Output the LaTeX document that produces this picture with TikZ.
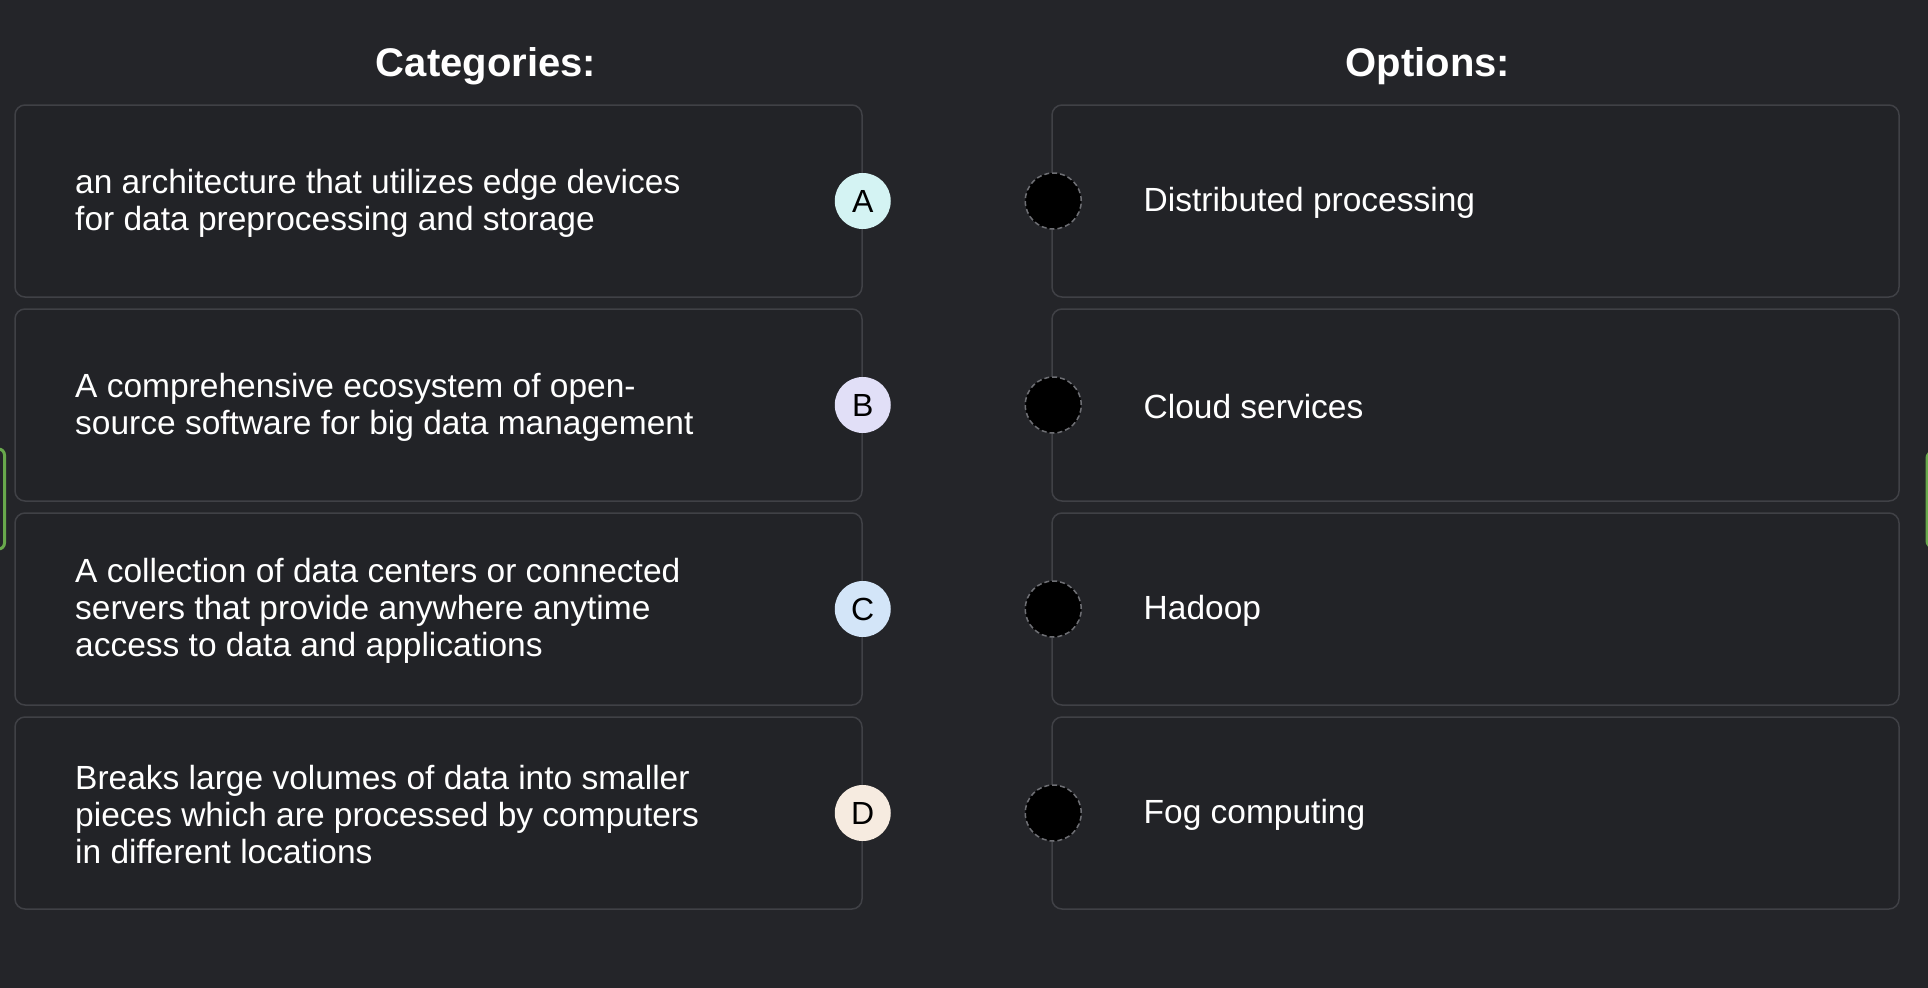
\documentclass[tikz,border=0pt]{standalone}
\usepackage{fontspec}
\setmainfont{Liberation Sans}
\usepackage{xcolor}

\definecolor{pagebg}{RGB}{36,37,41}
\definecolor{boxfill}{RGB}{34,35,39}
\definecolor{boxline}{RGB}{64,65,70}
\definecolor{tagcyan}{RGB}{212,243,243}
\definecolor{taglilac}{RGB}{225,223,247}
\definecolor{tagblue}{RGB}{211,229,248}
\definecolor{tagpeach}{RGB}{246,235,224}
\definecolor{slotline}{RGB}{110,111,116}
\definecolor{tabgreen}{RGB}{104,168,76}

\begin{document}
\begin{tikzpicture}[x=1pt, y=-1pt,
            catbox/.style={rectangle, draw=boxline, line width=1.5pt, fill=boxfill, rounded corners=10pt, minimum width=847pt, minimum height=192pt, inner sep=0pt},
            optbox/.style={catbox},
            tag/.style={circle, fill=#1, minimum size=56pt, inner sep=0pt, text=black, font=\fontsize{32}{36}\selectfont},
            slot/.style={circle, draw=slotline, fill=black, line width=1.5pt, dash pattern=on 5pt off 3pt, minimum size=56pt, inner sep=0pt},
            cattext/.style={anchor=west, align=left, inner sep=0pt, text=white, font=\fontsize{33.5}{37}\selectfont},
            title/.style={text=white, font=\bfseries\fontsize{40}{44}\selectfont}
        ]
            % Background and page size
            \fill[pagebg] (0,0) rectangle (1928,988);
            \useasboundingbox (0,0) rectangle (1928,988);

            % Green tabs cut by the page edges
            \draw[tabgreen, line width=3pt, rounded corners=6pt] (-20,449) rectangle (4.5,549);
            \draw[tabgreen, line width=3pt, rounded corners=6pt] (1927,452) rectangle (1960,547);

            % Column titles
            \node[title] (cattitle) at (486,66) {Categories:};
            \node[title] (opttitle) at (1428,66) {Options:};

            % Category blocks
            \node[catbox] (catA) at (438.5,201) {};
            \node[catbox] (catB) at (438.5,405) {};
            \node[catbox] (catC) at (438.5,609) {};
            \node[catbox] (catD) at (438.5,813) {};

            \node[cattext] (txtA) at (75,203) {an architecture that utilizes edge devices\\for data preprocessing and storage};
            \node[cattext] (txtB) at (75,407) {A comprehensive ecosystem of open-\\source software for big data management};
            \node[cattext] (txtC) at (75,611) {A collection of data centers or connected\\servers that provide anywhere anytime\\access to data and applications};
            \node[cattext] (txtD) at (75,815) {Breaks large volumes of data into smaller\\pieces which are processed by computers\\in different locations};

            % Letter tags
            \node[tag=tagcyan] (tagA) at (catA.east) {A};
            \node[tag=taglilac] (tagB) at (catB.east) {B};
            \node[tag=tagblue] (tagC) at (catC.east) {C};
            \node[tag=tagpeach] (tagD) at (catD.east) {D};

            % Option blocks
            \node[optbox] (optA) at (1475.5,201) {};
            \node[optbox] (optB) at (1475.5,405) {};
            \node[optbox] (optC) at (1475.5,609) {};
            \node[optbox] (optD) at (1475.5,813) {};

            \node[cattext] (otxtA) at (1143.5,203) {Distributed processing};
            \node[cattext] (otxtB) at (1143.5,407) {Cloud services};
            \node[cattext] (otxtC) at (1143.5,611) {Hadoop};
            \node[cattext] (otxtD) at (1143.5,815) {Fog computing};

            % Empty drop slots
            \node[slot, xshift=2pt] (slotA) at (optA.west) {};
            \node[slot, xshift=2pt] (slotB) at (optB.west) {};
            \node[slot, xshift=2pt] (slotC) at (optC.west) {};
            \node[slot, xshift=2pt] (slotD) at (optD.west) {};

        \end{tikzpicture}
\end{document}
